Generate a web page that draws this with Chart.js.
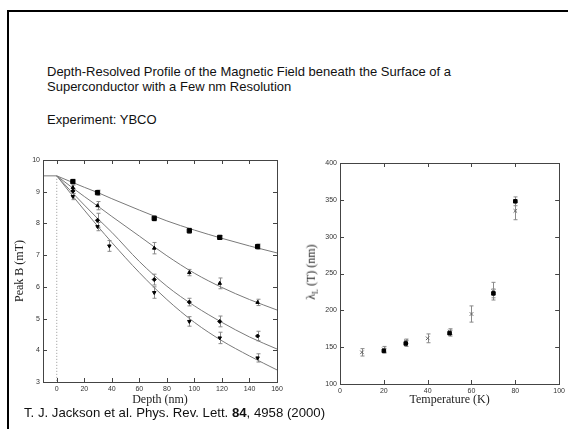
<!DOCTYPE html>
<html>
<head>
<meta charset="utf-8">
<script src="https://cdn.jsdelivr.net/npm/chart.js@4.4.0/dist/chart.umd.min.js"></script>
<style>
    body { margin: 0; background: #fff; width: 568px; height: 429px; overflow: hidden; position: relative; font-family: "Liberation Sans", Arial, sans-serif; color: #111; }
    #frame { position: absolute; left: 7px; top: 10px; width: 580px; height: 440px; border-top: 2px solid #000; border-left: 2px solid #000; }
    #title { position: absolute; left: 47px; top: 65px; font-size: 13px; line-height: 14.5px; }
    #exp { position: absolute; left: 47px; top: 112px; font-size: 13px; line-height: 15px; }
    #ref { position: absolute; left: 24px; top: 405px; font-size: 13.2px; line-height: 15px; white-space: nowrap; }
    #depthChart { position: absolute; left: 10px; top: 150px; }
    #lambdaChart { position: absolute; left: 300px; top: 150px; }
    #lambdaTitle { position: absolute; left: 312px; top: 272px; transform: translate(-50%, -50%) rotate(-90deg); font-family: "Liberation Serif", "Times New Roman", serif; font-size: 12px; color: #222; white-space: nowrap; }
    #lambdaTitle sub { font-size: 8px; }
</style>
</head>
<body>
<div id="frame"></div>
<div id="title">Depth-Resolved Profile of the Magnetic Field beneath the Surface of a<br>Superconductor with a Few nm Resolution</div>
<div id="exp">Experiment: YBCO</div>
<canvas id="depthChart" width="280" height="262"></canvas>
<canvas id="lambdaChart" width="268" height="262"></canvas>
<div id="lambdaTitle">&lambda;<sub>L</sub> (T) (nm)</div>
<div id="ref">T. J. Jackson et al. Phys. Rev. Lett. <b>84</b>, 4958 (2000)</div>

<script>
// ---- left panel: peak field vs depth ----
var depthTicks = [0, 20, 40, 60, 80, 100, 120, 140, 160];
var fieldTicks = [3, 4, 5, 6, 7, 8, 9, 10];

var depthA = [11.7, 29.6, 70.8, 96.3, 118.4, 145.9];
var depthB = [11.7, 29.6, 38.2, 70.8, 96.3, 118.4, 145.9];

var field1 = [9.32, 8.97, 8.16, 7.77, 7.56, 7.27];
var err1 = [0.07, 0.08, 0.08, 0.08, 0.06, 0.08];
var field2 = [9.13, 8.56, 7.22, 6.45, 6.11, 5.51];
var err2 = [0.08, 0.13, 0.18, 0.1, 0.17, 0.1];
var field3 = [9.02, 8.1, 6.23, 5.52, 4.91, 4.45];
var err3 = [0.08, 0.22, 0.17, 0.12, 0.17, 0.15];
var field4 = [8.85, 7.9, 7.29, 5.82, 4.91, 4.39, 3.76];
var err4 = [0.1, 0.13, 0.17, 0.18, 0.15, 0.18, 0.13];

// fitted curves
var curveDepth = [0, 10, 20, 30, 40, 60, 80, 100, 120, 140, 160];
var curve1 = [9.5, 9.32, 9.14, 8.97, 8.78, 8.42, 8.08, 7.79, 7.53, 7.29, 7.07];
var curve2 = [9.5, 9.17, 8.85, 8.54, 8.22, 7.6, 6.98, 6.43, 5.98, 5.6, 5.27];
var curve3 = [9.5, 9.03, 8.58, 8.14, 7.72, 6.8, 6.02, 5.4, 4.88, 4.42, 4.04];
var curve4 = [9.5, 8.95, 8.42, 7.9, 7.4, 6.45, 5.6, 4.88, 4.3, 3.82, 3.38];
var surfaceDepth = [-10, 0];
var surfaceField = [9.5, 9.5];

// ---- right panel: penetration depth vs temperature ----
var tempTicks = [0, 20, 40, 60, 80, 100];
var lambdaTicks = [100, 150, 200, 250, 300, 350, 400];

var tempCross = [10, 20, 30, 40, 50, 60, 70, 80];
var lambdaCross = [143, 147, 158, 162, 171, 195, 226, 335];
var errCross = [5, 4, 3, 6, 4, 11, 12, 12];
var tempFilled = [20, 30, 50, 70, 80];
var lambdaFilled = [145, 155, 169, 223, 348];
var errFilled = [3, 4, 4, 6, 6];

function pts(xs, ys) {
    return xs.map(function(x, i) { return { x: x, y: ys[i] }; });
}

var tickFont = { family: "'Liberation Sans', Arial, sans-serif", size: 7 };
var titleFont = { family: "'Liberation Serif', 'Times New Roman', serif", size: 12 };

// error bars + gnuplot style box with inward ticks
var gnuplotFrame = {
    id: 'gnuplotFrame',
    beforeDatasetsDraw: function(chart) {
        var ctx = chart.ctx;
        var xs = chart.scales.x, ys = chart.scales.y;
        ctx.save();
        ctx.strokeStyle = '#8a8a8a';
        ctx.lineWidth = 1;
        chart.data.datasets.forEach(function(ds) {
            if (!ds.errors) return;
            ds.data.forEach(function(p, j) {
                var px = Math.round(xs.getPixelForValue(p.x)) + 0.5;
                var y1 = ys.getPixelForValue(p.y - ds.errors[j]);
                var y2 = ys.getPixelForValue(p.y + ds.errors[j]);
                ctx.beginPath();
                ctx.moveTo(px, y1); ctx.lineTo(px, y2);
                ctx.moveTo(px - 2, y1); ctx.lineTo(px + 2, y1);
                ctx.moveTo(px - 2, y2); ctx.lineTo(px + 2, y2);
                ctx.stroke();
            });
        });
        ctx.restore();
    },
    afterDraw: function(chart) {
        var ctx = chart.ctx, a = chart.chartArea;
        var xs = chart.scales.x, ys = chart.scales.y;
        ctx.save();
        ctx.strokeStyle = '#444';
        ctx.lineWidth = 1;
        ctx.strokeRect(Math.round(a.left) + 0.5, Math.round(a.top) + 0.5,
                       Math.round(a.right - a.left), Math.round(a.bottom - a.top));
        ctx.beginPath();
        xs.ticks.forEach(function(t) {
            var px = Math.round(xs.getPixelForValue(t.value)) + 0.5;
            ctx.moveTo(px, a.bottom); ctx.lineTo(px, a.bottom - 4);
            ctx.moveTo(px, a.top); ctx.lineTo(px, a.top + 4);
        });
        ys.ticks.forEach(function(t) {
            var py = Math.round(ys.getPixelForValue(t.value)) + 0.5;
            ctx.moveTo(a.left, py); ctx.lineTo(a.left + 4, py);
            ctx.moveTo(a.right, py); ctx.lineTo(a.right - 4, py);
        });
        ctx.stroke();
        ctx.restore();
    }
};

function fixedTicks(list) {
    return function(scale) {
        scale.ticks = list.map(function(v) { return { value: v }; });
    };
}

function axis(min, max, list, opts) {
    return Object.assign({
        type: 'linear',
        min: min,
        max: max,
        afterBuildTicks: fixedTicks(list),
        grid: { display: false, drawTicks: false },
        border: { display: false },
        ticks: { font: tickFont, color: '#333', padding: 3, autoSkip: false, maxRotation: 0 }
    }, opts);
}

function curveSet(ys) {
    return {
        type: 'line',
        data: pts(curveDepth, ys),
        borderColor: '#7a7a7a',
        borderWidth: 1,
        pointRadius: 0,
        cubicInterpolationMode: 'monotone',
        fill: false
    };
}

function markerSet(xs, ys, errs, style, r, rot) {
    return {
        type: 'scatter',
        data: pts(xs, ys),
        errors: errs,
        pointStyle: style,
        pointRadius: r,
        rotation: rot || 0,
        backgroundColor: '#000',
        borderColor: '#000',
        borderWidth: 1
    };
}

new Chart(document.getElementById('depthChart'), {
    type: 'scatter',
    data: {
        datasets: [
            markerSet(depthA, field1, err1, 'rect', 3),
            markerSet(depthA, field2, err2, 'triangle', 2),
            markerSet(depthA, field3, err3, 'rectRot', 2),
            markerSet(depthB, field4, err4, 'triangle', 2, 180),
            curveSet(curve1),
            curveSet(curve2),
            curveSet(curve3),
            curveSet(curve4),
            {
                type: 'line',
                data: pts(surfaceDepth, surfaceField),
                borderColor: '#7a7a7a',
                borderWidth: 1,
                pointRadius: 0
            },
            {
                type: 'line',
                data: [{ x: 0, y: 9.5 }, { x: 0, y: 3 }],
                borderColor: '#999',
                borderWidth: 1,
                borderDash: [1, 2],
                pointRadius: 0
            }
        ]
    },
    options: {
        responsive: false,
        animation: false,
        events: [],
        layout: { autoPadding: false, padding: { top: 10, right: 13, left: 0, bottom: 0 } },
        plugins: { legend: { display: false }, tooltip: { enabled: false } },
        scales: {
            x: axis(-10, 160, depthTicks, {
                title: { display: true, text: 'Depth (nm)', font: titleFont, color: '#222', padding: { top: 0, bottom: 5 } },
                afterFit: function(s) { s.height = 30; }
            }),
            y: axis(3, 10, fieldTicks, {
                title: { display: true, text: 'Peak B (mT)', font: titleFont, color: '#222', padding: { top: 3, bottom: 0 } },
                afterFit: function(s) { s.width = 33; }
            })
        }
    },
    plugins: [gnuplotFrame]
});

new Chart(document.getElementById('lambdaChart'), {
    type: 'scatter',
    data: {
        datasets: [
            markerSet(tempFilled, lambdaFilled, errFilled, 'rect', 2.5),
            {
                type: 'scatter',
                data: pts(tempCross, lambdaCross),
                errors: errCross,
                pointStyle: 'crossRot',
                pointRadius: 2.5,
                borderColor: '#666',
                borderWidth: 1
            }
        ]
    },
    options: {
        responsive: false,
        animation: false,
        events: [],
        layout: { autoPadding: false, padding: { top: 13, right: 5, left: 0, bottom: 0 } },
        plugins: { legend: { display: false }, tooltip: { enabled: false } },
        scales: {
            x: axis(0, 100, tempTicks, {
                title: { display: true, text: 'Temperature (K)', font: titleFont, color: '#222', padding: { top: 0, bottom: 5 } },
                afterFit: function(s) { s.height = 28; }
            }),
            y: axis(100, 400, lambdaTicks, {
                afterFit: function(s) { s.width = 40; }
            })
        }
    },
    plugins: [gnuplotFrame]
});
</script>
</body>
</html>
